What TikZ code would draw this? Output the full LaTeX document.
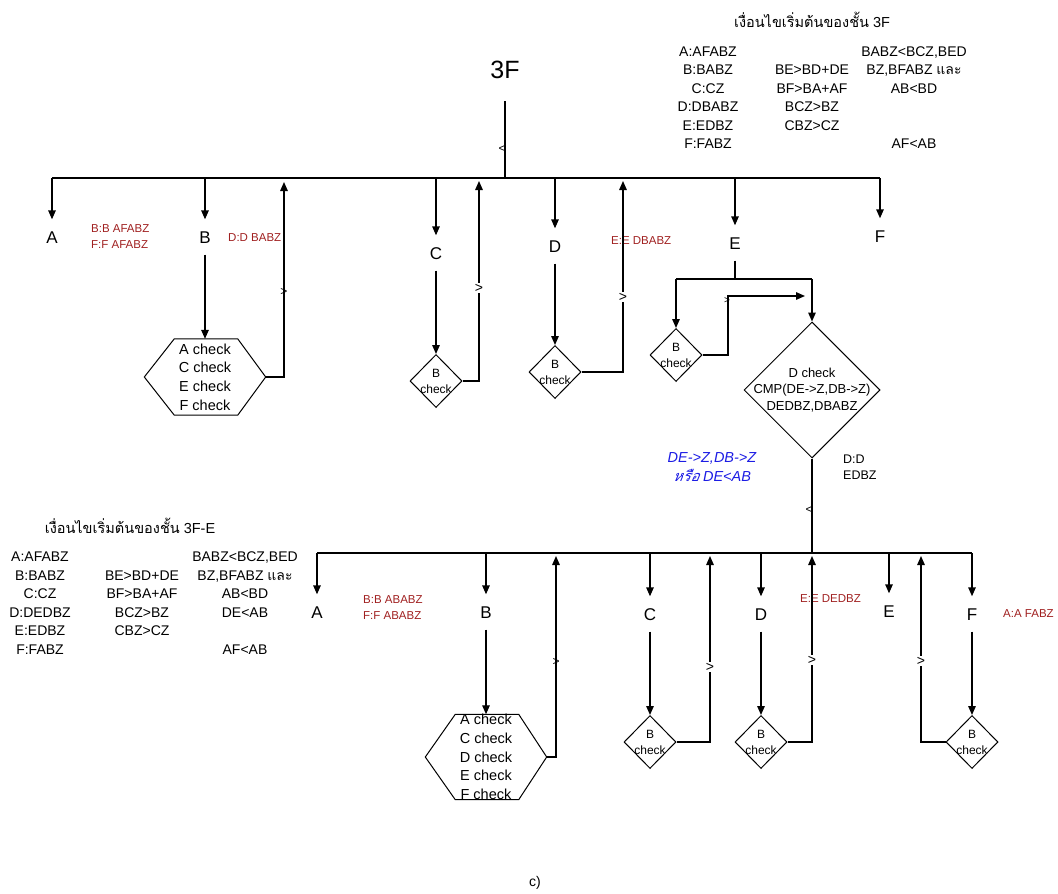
\documentclass[tikz,border=0pt]{standalone}
\usepackage{fontspec}
\setmainfont{Liberation Sans}
\newfontfamily\thai[Script=Thai]{Loma}
\newfontfamily\thaiit[Script=Thai,FakeSlant=0.2]{Loma}
\usepackage{tikz}
\usetikzlibrary{arrows.meta,shapes.geometric}
\definecolor{notered}{RGB}{160,32,32}
\definecolor{noteblue}{RGB}{28,28,228}
\newcommand{\fs}[2]{\fontsize{#1}{#2}\selectfont}
\newcommand{\hexframe}[1]{%
  \draw[line width=1pt] (#1.west) -- ([xshift=30pt]#1.north west) -- ([xshift=-28pt]#1.north east)
    -- (#1.east) -- ([xshift=-28pt]#1.south east) -- ([xshift=30pt]#1.south west) -- cycle;}

\begin{document}
\begin{tikzpicture}[x=1pt, y=-1pt,
  wire/.style={line width=1.4pt},
  arr/.style={wire, -{Triangle[length=9pt,width=7.5pt]}},
  letter/.style={font=\fs{17}{18}, text height=12pt, text depth=0pt, inner xsep=2pt, inner ysep=11.5pt},
  note/.style={font=\fs{11.5}{16}, text=notered, align=left, anchor=west, inner sep=0pt},
  cond/.style={font=\fs{14}{18.5}, align=center, inner sep=0pt},
  hexbox/.style={font=\fs{14.5}{18.6}, align=center, minimum width=121pt, inner sep=0pt},
  bcheck/.style={diamond, draw, line width=1pt, font=\fs{12}{16}, align=center,
                 minimum width=52pt, minimum height=53pt, inner sep=-7pt},
  bigcheck/.style={diamond, draw, line width=1pt, font=\fs{13}{16.5}, align=center,
                   minimum width=136pt, minimum height=136pt, inner sep=-14pt},
  gtsign/.style={font=\fs{12}{12}, inner sep=1pt}
]
\useasboundingbox (0,0) rectangle (1058,894);

% conditions
\node[font=\fs{14.5}{16}] (t3F) at (812,20) {{\thai เงื่อนไขเริ่มต้นของชั้น} 3F};
\node[cond] (c3Fa) at (708,97.5) {A:AFABZ\\B:BABZ\\C:CZ\\D:DBABZ\\E:EDBZ\\F:FABZ};
\node[cond] (c3Fb) at (812,98) {BE>BD+DE\\BF>BA+AF\\BCZ>BZ\\CBZ>CZ};
\node[cond] (c3Fc) at (914,97.5) {BABZ<BCZ,BED\\BZ,BFABZ {\thai และ}\\AB<BD\\\mbox{}\\\mbox{}\\AF<AB};
\node[font=\fs{14.5}{16}] (t3FE) at (130,526) {{\thai เงื่อนไขเริ่มต้นของชั้น} 3F-E};
\node[cond] (cEa) at (40,603) {A:AFABZ\\B:BABZ\\C:CZ\\D:DEDBZ\\E:EDBZ\\F:FABZ};
\node[cond] (cEb) at (142,603) {BE>BD+DE\\BF>BA+AF\\BCZ>BZ\\CBZ>CZ};
\node[cond] (cEc) at (245,603) {BABZ<BCZ,BED\\BZ,BFABZ {\thai และ}\\AB<BD\\DE<AB\\\mbox{}\\AF<AB};

% level 3F
\node[font=\fs{25}{28}] (n3F) at (505,70) {3F};
\coordinate (jTop) at (505,178);
\draw[wire, shorten <=19pt] (n3F) -- (jTop);
\node[gtsign] (lt1) at (502,149) {<};
\coordinate (tA) at (52,178);
\coordinate (tB) at (205,178);
\coordinate (tC) at (436,178);
\coordinate (tD) at (555,178);
\coordinate (tE) at (735,178);
\coordinate (tF) at (880,178);
\draw[wire] (tA) -- (tF);

\node[letter] (A1) at (52,237) {A};
\node[letter] (B1) at (205,237) {B};
\node[letter] (C1) at (436,253) {C};
\node[letter] (D1) at (555,246) {D};
\node[letter] (E1) at (735,243) {E};
\node[letter] (F1) at (880,236) {F};
\foreach \n in {A,B,C,D,E,F}
  \draw[arr] (t\n) -- (\n1);

\node[note] (nA1) at (91,236.5) {B:B AFABZ\\F:F AFABZ};
\node[note] (nB1) at (228,238) {D:D BABZ};
\node[note] (nD1) at (611,241) {E:E DBABZ};

\node[hexbox, minimum height=76pt] (hexB1) at (205,377) {A check\\C check\\E check\\F check};
\hexframe{hexB1}
\node[bcheck] (bcC1) at (436,381) {B\\check};
\node[bcheck] (bcD1) at (555,372) {B\\check};
\draw[arr] (B1) -- (hexB1.north);
\draw[arr] (C1) -- (bcC1);
\draw[arr] (D1) -- (bcD1);

\coordinate (uB1) at (284,182);
\coordinate (uC1) at (479,181);
\coordinate (uD1) at (623,181);
\draw[arr] (hexB1.east) -| (uB1);
\draw[arr] (bcC1.east) -| (uC1);
\draw[arr] (bcD1.east) -| (uD1);
\node[gtsign] (gB1) at (284,292) {>};
\node[gtsign, fill=white, font=\fs{14}{14}] (gC1) at (479,288) {>};
\node[gtsign, fill=white, font=\fs{14}{14}] (gD1) at (623,297) {>};

% E branch
\coordinate (eJ) at (735,279);
\coordinate (eL) at (676,279);
\coordinate (eR) at (812,279);
\draw[wire] (E1) -- (eJ);
\draw[wire] (eL) -- (eR);
\node[bcheck] (bcE1) at (676,355) {B\\check};
\node[bigcheck] (dBig) at (812,390) {D check\\CMP(DE->Z,DB->Z)\\DEDBZ,DBABZ};
\draw[arr] (eL) -- (bcE1);
\draw[arr] (eR) -- (dBig);
\coordinate (eK) at (728,296);
\coordinate (eTo) at (805,296);
\draw[arr] (bcE1.east) -| (eK) -- (eTo);
\node[gtsign, font=\fs{10}{10}] (gE1) at (727,301) {>};

\node[note, text=black, font=\fs{12.5}{16}] (nDD) at (843,467) {D:D\\EDBZ};
\node[font=\fs{14.5}{19}\itshape, text=noteblue, align=center, inner sep=0pt] (why) at (712,467)
  {DE->Z,DB->Z\\{\thaiit หรือ} DE<AB};

% level 3F-E
\coordinate (jBot) at (812,553);
\draw[wire] (dBig) -- (jBot);
\node[gtsign] (lt2) at (809,510) {<};
\coordinate (bA) at (317,553);
\coordinate (bB) at (486,553);
\coordinate (bC) at (650,553);
\coordinate (bD) at (761,553);
\coordinate (bE) at (889,553);
\coordinate (bF) at (972,553);
\draw[wire] (bA) -- (bF);

\node[letter] (A2) at (317,612) {A};
\node[letter] (B2) at (486,612) {B};
\node[letter] (C2) at (650,614) {C};
\node[letter] (D2) at (761,614) {D};
\node[letter] (E2) at (889,611) {E};
\node[letter] (F2) at (972,614) {F};
\foreach \n in {A,B,C,D,E,F}
  \draw[arr] (b\n) -- (\n2);

\node[note] (nA2) at (363,608) {B:B ABABZ\\F:F ABABZ};
\node[note] (nD2) at (800,599) {E:E DEDBZ};
\node[note] (nF2) at (1003,614) {A:A FABZ};

\node[hexbox, minimum height=85pt] (hexB2) at (486,757) {A check\\C check\\D check\\E check\\F check};
\hexframe{hexB2}
\node[bcheck] (bcC2) at (650,742) {B\\check};
\node[bcheck] (bcD2) at (761,742) {B\\check};
\node[bcheck] (bcF2) at (972,742) {B\\check};
\draw[arr] (B2) -- (hexB2.north);
\draw[arr] (C2) -- (bcC2);
\draw[arr] (D2) -- (bcD2);
\draw[arr] (F2) -- (bcF2);

\coordinate (uB2) at (556,556);
\coordinate (uC2) at (710,556);
\coordinate (uD2) at (812,556);
\coordinate (uF2) at (921,556);
\draw[arr] (hexB2.east) -| (uB2);
\draw[arr] (bcC2.east) -| (uC2);
\draw[arr] (bcD2.east) -| (uD2);
\draw[arr] (bcF2.west) -| (uF2);
\node[gtsign] (gB2) at (556,662) {>};
\node[gtsign, fill=white, font=\fs{14}{14}] (gC2) at (710,667) {>};
\node[gtsign, fill=white, font=\fs{14}{14}] (gD2) at (812,660) {>};
\node[gtsign, fill=white, font=\fs{14}{14}] (gF2) at (921,661) {>};

\node[font=\fs{14}{16}] (cap) at (535,883) {c)};
\end{tikzpicture}
\end{document}
